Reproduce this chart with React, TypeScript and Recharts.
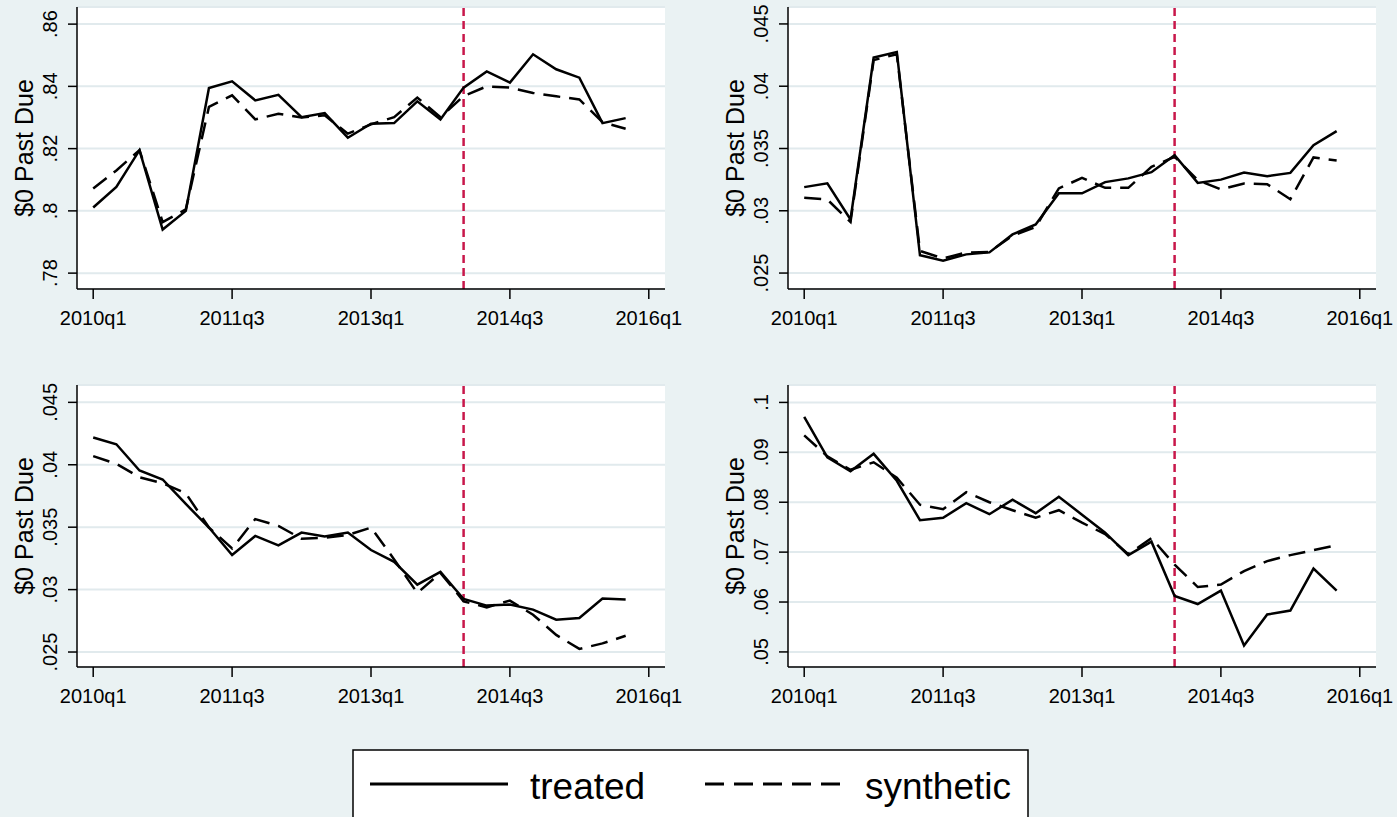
import React from "react";
import { CartesianGrid, Line, LineChart, ReferenceLine, XAxis, YAxis } from "recharts";

// quarters 2010q1 .. 2015q4
const quarters = [
  "2010q1", "2010q2", "2010q3", "2010q4", "2011q1", "2011q2", "2011q3", "2011q4",
  "2012q1", "2012q2", "2012q3", "2012q4", "2013q1", "2013q2", "2013q3", "2013q4",
  "2014q1", "2014q2", "2014q3", "2014q4", "2015q1", "2015q2", "2015q3", "2015q4"
];

const xTicks = [0, 6, 12, 18, 24];
const xTickLabels = ["2010q1", "2011q3", "2013q1", "2014q3", "2016q1"];
const treatmentStart = 16;

const p1Treated = [0.8011, 0.8077, 0.8195, 0.794, 0.8, 0.8395, 0.8416, 0.8355, 0.8373, 0.8301, 0.8314, 0.8235, 0.828, 0.8282, 0.8352, 0.8294, 0.8396, 0.8448, 0.8412, 0.8503, 0.8455, 0.8428, 0.8282, 0.8298];
const p1Synthetic = [0.8072, 0.813, 0.8195, 0.7964, 0.8005, 0.8334, 0.8371, 0.8294, 0.8312, 0.83, 0.8307, 0.8248, 0.8278, 0.8301, 0.8364, 0.8301, 0.8369, 0.84, 0.8396, 0.8379, 0.8368, 0.8358, 0.8285, 0.8264];
const p1Ticks = [0.78, 0.8, 0.82, 0.84, 0.86];

const p2Treated = [0.0319, 0.0322, 0.0293, 0.0423, 0.04275, 0.02644, 0.026, 0.0265, 0.02666, 0.0281, 0.0289, 0.0314, 0.0314, 0.0323, 0.0326, 0.0331, 0.03446, 0.03224, 0.0325, 0.03307, 0.03278, 0.03304, 0.03526, 0.03639];
const p2Synthetic = [0.03104, 0.0309, 0.0291, 0.0421, 0.04257, 0.02678, 0.02617, 0.02665, 0.0267, 0.028, 0.0287, 0.0318, 0.03264, 0.03184, 0.03184, 0.03352, 0.03433, 0.03246, 0.03171, 0.03219, 0.03213, 0.03093, 0.03428, 0.03404];
const p2Ticks = [0.025, 0.03, 0.035, 0.04, 0.045];

const p3Treated = [0.04218, 0.04164, 0.03954, 0.03882, 0.03686, 0.03497, 0.03277, 0.0343, 0.03355, 0.03457, 0.03425, 0.03457, 0.03317, 0.03223, 0.0304, 0.03142, 0.02925, 0.02872, 0.0288, 0.0284, 0.02759, 0.02772, 0.02928, 0.0292];
const p3Synthetic = [0.04069, 0.04008, 0.039, 0.03852, 0.03771, 0.03497, 0.0333, 0.03565, 0.0351, 0.03408, 0.03416, 0.03438, 0.03497, 0.03242, 0.02973, 0.03134, 0.02906, 0.02858, 0.02912, 0.02799, 0.02637, 0.02525, 0.02569, 0.0263];
const p3Ticks = [0.025, 0.03, 0.035, 0.04, 0.045];

const p4Treated = [0.0971, 0.089, 0.0862, 0.0897, 0.0843, 0.0764, 0.0769, 0.0798, 0.0776, 0.0805, 0.0778, 0.0811, 0.0775, 0.0739, 0.0694, 0.0721, 0.0612, 0.0596, 0.0623, 0.0513, 0.0575, 0.0583, 0.0667, 0.0623];
const p4Synthetic = [0.0934, 0.0892, 0.0865, 0.088, 0.0849, 0.0795, 0.0786, 0.082, 0.08, 0.0784, 0.0769, 0.0784, 0.0759, 0.0736, 0.0696, 0.0728, 0.0675, 0.063, 0.0635, 0.0662, 0.0682, 0.0694, 0.0704, 0.0714];
const p4Ticks = [0.05, 0.06, 0.07, 0.08, 0.09, 0.1];

const FONT = "'Liberation Sans', Arial, Helvetica, sans-serif";
const BG = "#eaf2f3";
const RED = "#c8174a";

const rows = (treated: number[], synthetic: number[]) =>
  quarters.map((q, i) => ({ t: i, q, treated: treated[i], synthetic: synthetic[i] }));

const fmtY = (v: number) => String(v).replace(/^0/, "");

function YTick(props: any) {
  const { x, y, payload } = props;
  return (
    <text
      x={x - 9}
      y={y}
      transform={`rotate(-90, ${x - 9}, ${y})`}
      textAnchor="middle"
      fontSize={20}
      fontFamily={FONT}
      fill="#000"
    >
      {fmtY(payload.value)}
    </text>
  );
}

type PanelProps = {
  left: number;
  top: number;
  treated: number[];
  synthetic: number[];
  domain: [number, number];
  ticks: number[];
};

function Panel({ left, top, treated, synthetic, domain, ticks }: PanelProps) {
  return (
    <div style={{ position: "absolute", left, top }}>
      <LineChart
        width={685}
        height={334}
        data={rows(treated, synthetic)}
        margin={{ top: 7, right: 20, bottom: 0, left: 0 }}
      >
        <CartesianGrid vertical={false} stroke="#e1eaed" strokeWidth={2} fill="#ffffff" />
        <XAxis
          type="number"
          dataKey="t"
          domain={[-0.7, 24.7]}
          ticks={xTicks}
          allowDataOverflow
          height={45}
          tickSize={10}
          tickMargin={12}
          tickFormatter={(v: number) => xTickLabels[xTicks.indexOf(v)]}
          axisLine={{ stroke: "#000", strokeWidth: 1.5 }}
          tickLine={{ stroke: "#000", strokeWidth: 1.5 }}
          tick={{ fill: "#000", fontSize: 20, fontFamily: FONT }}
        />
        <YAxis
          type="number"
          domain={domain}
          ticks={ticks}
          allowDataOverflow
          width={77}
          tickSize={9}
          axisLine={{ stroke: "#000", strokeWidth: 1.5 }}
          tickLine={{ stroke: "#000", strokeWidth: 1.5 }}
          tick={<YTick />}
          label={{
            value: "$0 Past Due",
            angle: -90,
            position: "insideLeft",
            offset: 24,
            style: { textAnchor: "middle", fontSize: 25, fontFamily: FONT, fill: "#000" }
          }}
        />
        <ReferenceLine x={treatmentStart} stroke={RED} strokeWidth={2.5} strokeDasharray="8 5" />
        <Line type="linear" dataKey="synthetic" stroke="#000" strokeWidth={2.5} strokeDasharray="17 9" dot={false} isAnimationActive={false} />
        <Line type="linear" dataKey="treated" stroke="#000" strokeWidth={2.5} dot={false} isAnimationActive={false} />
      </LineChart>
    </div>
  );
}

function LegendBox() {
  return (
    <svg width={1397} height={817} style={{ position: "absolute", left: 0, top: 0, pointerEvents: "none" }}>
      <rect x={353} y={750} width={675} height={80} fill="#fff" stroke="#000" strokeWidth={1.5} />
      <line x1={370} x2={508} y1={784} y2={784} stroke="#000" strokeWidth={3} />
      <text x={530} y={799} fontSize={37} fontFamily={FONT} fill="#000">treated</text>
      <line x1={705} x2={842} y1={784} y2={784} stroke="#000" strokeWidth={3} strokeDasharray="19 10" />
      <text x={865} y={799} fontSize={37} fontFamily={FONT} fill="#000">synthetic</text>
    </svg>
  );
}

export default function App() {
  return (
    <div style={{ position: "absolute", left: 0, top: 0, width: 1397, height: 817, background: BG, overflow: "hidden" }}>
      <Panel left={0} top={0} treated={p1Treated} synthetic={p1Synthetic} domain={[0.7749, 0.8655]} ticks={p1Ticks} />
      <Panel left={711} top={0} treated={p2Treated} synthetic={p2Synthetic} domain={[0.02372, 0.04636]} ticks={p2Ticks} />
      <Panel left={0} top={378} treated={p3Treated} synthetic={p3Synthetic} domain={[0.0238, 0.04639]} ticks={p3Ticks} />
      <Panel left={711} top={378} treated={p4Treated} synthetic={p4Synthetic} domain={[0.04698, 0.10349]} ticks={p4Ticks} />
      <LegendBox />
    </div>
  );
}
